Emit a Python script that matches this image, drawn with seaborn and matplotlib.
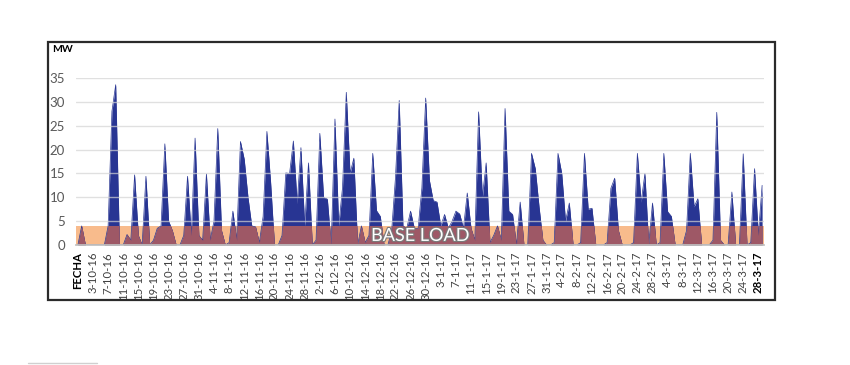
import numpy as np
import matplotlib
matplotlib.use("Agg")
import matplotlib.pyplot as plt
import matplotlib.patheffects as pe
from matplotlib.patches import Rectangle
from matplotlib.lines import Line2D
import seaborn as sns

# daily production (MW), first category is the "FECHA" header row
production_mw = [
    0, 4, 0, 0, 0, 0, 0, 0, 4, 28,
    33.6, 0, 0, 2.2, 1, 14.7, 2, 0, 14.4, 0,
    1, 3.5, 4, 21.2, 5, 3, 0, 0, 2, 14.4,
    2, 22.4, 2, 1, 14.9, 1, 5, 24.4, 3, 0,
    0.5, 7.1, 1, 21.7, 18, 10, 4, 3.8, 0.5, 6,
    23.8, 13, 0, 0, 2, 15.1, 15, 21.8, 8.7, 20.4,
    4, 17.2, 0, 1, 23.4, 10, 9.6, 0, 26.4, 4,
    12, 32, 15, 18.2, 0, 4, 0.5, 2, 19.2, 7.2,
    6, 0, 0, 3, 14, 30.3, 4, 3.5, 7.1, 3.5,
    3.5, 12, 30.8, 13.5, 9.3, 9, 4, 6.4, 3.5, 5,
    7.1, 6.5, 3.5, 10.9, 3.5, 1, 27.9, 10, 17.2, 0.5,
    2, 4, 1, 28.6, 7.1, 6.4, 0, 9, 0, 0,
    19.2, 16, 8, 1, 0, 0, 0.5, 19.2, 15, 5,
    8.8, 0, 0, 0.5, 19.2, 7.5, 7.7, 0, 0, 0,
    0.5, 11.9, 14, 3, 0, 0, 0, 0.5, 19.2, 9,
    15, 0, 8.8, 0, 0.5, 19.2, 7, 6, 0, 0,
    0, 3, 19.2, 8, 9.7, 0, 0, 0, 1, 27.8,
    1, 0, 0, 11.1, 0, 0, 19.1, 0, 0.5, 16,
    2, 12.5,
]
base_load_mw = 4

date_labels = [
    "FECHA", "3-10-16", "7-10-16", "11-10-16", "15-10-16", "19-10-16",
    "23-10-16", "27-10-16", "31-10-16", "4-11-16", "8-11-16", "12-11-16",
    "16-11-16", "20-11-16", "24-11-16", "28-11-16", "2-12-16", "6-12-16",
    "10-12-16", "14-12-16", "18-12-16", "22-12-16", "26-12-16", "30-12-16",
    "3-1-17", "7-1-17", "11-1-17", "15-1-17", "19-1-17", "23-1-17",
    "27-1-17", "31-1-17", "4-2-17", "8-2-17", "12-2-17", "16-2-17",
    "20-2-17", "24-2-17", "28-2-17", "4-3-17", "8-3-17", "12-3-17",
    "16-3-17", "20-3-17", "24-3-17", "28-3-17",
]
label_step = 4

NAVY = "#283593"
ORANGE = "#f8bb8c"
BROWN = "#9e5866"

sns.set_theme(style="white")
plt.rcParams["font.family"] = ["Lato", "DejaVu Sans"]

days = np.arange(len(production_mw))
mw = np.array(production_mw, dtype=float)

fig = plt.figure(figsize=(8.5, 3.65), dpi=100)
ax = fig.add_axes([76 / 850, 120 / 365, 688 / 850, 167 / 365])

# outer frame of the chart object
fig.patches.append(Rectangle((48 / 850, 65 / 365), 727 / 850, 258 / 365,
                             transform=fig.transFigure, fill=False,
                             edgecolor="#2b2b2b", linewidth=1.6))
fig.lines.append(Line2D([28 / 850, 97 / 850], [2 / 365, 2 / 365],
                        transform=fig.transFigure, color="#d0d0d0", lw=1))

# base load band
ax.axhspan(0, base_load_mw, color=ORANGE, zorder=1, lw=0)

# production area
ax.fill_between(days, 0, mw, color=NAVY, lw=0, zorder=2)
sns.lineplot(x=days, y=mw, color=NAVY, linewidth=0.5, ax=ax, zorder=2)

# part of production inside the band
overlap = ax.fill_between(days, 0, mw, color=BROWN, lw=0, zorder=3)
clip = Rectangle((-1, 0), len(days) + 2, base_load_mw, transform=ax.transData)
overlap.set_clip_path(clip)

ax.text(90.5, 1.9, "BASE LOAD", color="white", fontsize=13,
        ha="center", va="center", zorder=5,
        path_effects=[pe.withStroke(linewidth=1.6, foreground="#7a7a7a")])

ax.set_ylim(0, 35)
ax.set_xlim(-0.5, len(days) - 0.5)
ax.set_yticks(range(0, 36, 5))
ax.yaxis.grid(True, color="#d4d4d4", lw=1, alpha=0.7, zorder=4)
ax.set_axisbelow(False)
ax.tick_params(axis="y", length=0, labelsize=9.5, labelcolor="#595959", pad=8)

ax.set_xticks(days[::label_step])
ax.set_xticklabels(date_labels, rotation=90, fontsize=8.2, color="#404040")
ax.set_xticks(days, minor=True)
ax.tick_params(axis="x", which="both", direction="out", length=3,
               color="#bfbfbf", width=0.8, pad=2)
for lbl in (ax.get_xticklabels()[0], ax.get_xticklabels()[-1]):
    lbl.set_fontweight("bold")
    lbl.set_color("black")

for side in ("top", "right", "left"):
    ax.spines[side].set_visible(False)
ax.spines["bottom"].set_color("#bfbfbf")
ax.spines["bottom"].set_zorder(6)

ax.set_xlabel("")
ax.set_ylabel("")
fig.text(52 / 850, 1 - 50 / 365, "MW", fontsize=7.5, fontweight="bold",
         ha="left", va="center", color="black")

fig.savefig("out.png", dpi=100, facecolor="white")
